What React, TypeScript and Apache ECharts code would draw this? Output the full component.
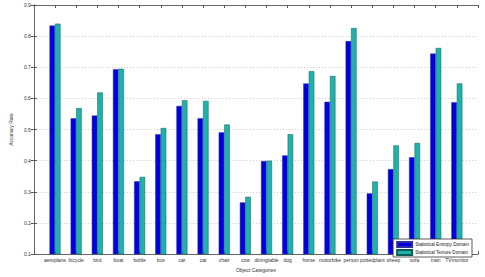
import React, { useEffect, useRef } from "react";
import * as echarts from "echarts";

const categories = [
  "aeroplane", "bicycle", "bird", "boat", "bottle", "bus", "car", "cat", "chair", "cow",
  "diningtable", "dog", "horse", "motorbike", "person", "pottedplant", "sheep", "sofa", "train", "TVmonitor",
];
const entropyValues = [
  0.834, 0.536, 0.545, 0.694, 0.334, 0.485, 0.576, 0.536, 0.491, 0.266,
  0.399, 0.417, 0.648, 0.589, 0.784, 0.295, 0.373, 0.411, 0.744, 0.588,
];
const textureValues = [
  0.840, 0.569, 0.619, 0.695, 0.348, 0.505, 0.594, 0.592, 0.516, 0.284,
  0.400, 0.485, 0.687, 0.672, 0.826, 0.333, 0.449, 0.457, 0.762, 0.648,
];
const seriesNames = ["Statistical Entropy Domain", "Statistical Texture Domain"];
const xLabel = "Object Categories";
const yLabel = "Accuracy Rate";

export default function App() {
  const ref = useRef<HTMLDivElement>(null);
  useEffect(() => {
    if (!ref.current) return;
    document.body.style.margin = "0";
    const chart = echarts.init(ref.current, undefined, { renderer: "svg" });
    const font = "Liberation Sans";
    const axisLine = { show: true, lineStyle: { color: "#666", width: 1 } };
    chart.setOption({
      animation: false,
      backgroundColor: "#fff",
      textStyle: { fontFamily: font },
      grid: { left: 17, right: 7, top: 5, bottom: 15, containLabel: false },
      legend: {
        right: 13,
        bottom: 20,
        orient: "vertical",
        itemWidth: 15,
        itemHeight: 5,
        itemGap: 1,
        padding: [2, 3, 1, 3],
        borderColor: "#333",
        borderWidth: 0.8,
        backgroundColor: "#fff",
        icon: "rect",
        textStyle: { fontSize: 4.6, color: "#222", fontFamily: font, padding: [0, 0, 0, -2] },
        data: seriesNames,
      },
      xAxis: [
        {
          type: "value",
          min: 0,
          max: 21,
          interval: 1,
          position: "bottom",
          axisLine,
          axisTick: { show: true, inside: true, length: 3, lineStyle: { color: "#555" } },
          axisLabel: {
            fontSize: 5,
            color: "#333",
            margin: 3,
            formatter: (v: number) => categories[v - 1] ?? "",
          },
          splitLine: { show: false },
          name: xLabel,
          nameLocation: "middle",
          nameGap: 9,
          nameTextStyle: { fontSize: 5, color: "#333" },
        },
        {
          type: "value",
          min: 0,
          max: 21,
          interval: 1,
          position: "top",
          axisLine,
          axisTick: { show: true, inside: true, length: 3, lineStyle: { color: "#555" } },
          axisLabel: { show: false },
          splitLine: { show: false },
        },
      ],
      yAxis: [
        {
          type: "value",
          min: 0.1,
          max: 0.9,
          interval: 0.1,
          position: "left",
          axisLine,
          axisTick: { show: true, inside: true, length: 3, lineStyle: { color: "#555" } },
          axisLabel: {
            fontSize: 5,
            color: "#333",
            margin: 3,
            formatter: (v: number) => v.toFixed(1),
          },
          splitLine: { show: true, lineStyle: { color: "#bbb", type: [1, 2], width: 0.8 } },
          name: yLabel,
          nameLocation: "middle",
          nameGap: 11,
          nameRotate: 90,
          nameTextStyle: { fontSize: 5, color: "#333" },
        },
        {
          type: "value",
          min: 0.1,
          max: 0.9,
          interval: 0.1,
          position: "right",
          axisLine,
          axisTick: { show: true, inside: true, length: 3, lineStyle: { color: "#555" } },
          axisLabel: { show: false },
          splitLine: { show: false },
        },
      ],
      series: [
        {
          name: seriesNames[0],
          type: "bar",
          xAxisIndex: 0,
          yAxisIndex: 0,
          barWidth: 5.5,
          barGap: "0%",
          itemStyle: { color: "#0000e0", borderColor: "#3030a0", borderWidth: 0.5 },
          data: entropyValues.map((v, i) => [i + 1, v]),
        },
        {
          name: seriesNames[1],
          type: "bar",
          xAxisIndex: 0,
          yAxisIndex: 0,
          barWidth: 5.5,
          barGap: "0%",
          itemStyle: { color: "#20b2aa", borderColor: "#0a5e5a", borderWidth: 0.5 },
          data: textureValues.map((v, i) => [i + 1, v]),
        },
      ],
    });
    return () => chart.dispose();
  }, []);
  return (
    <div
      ref={ref}
      style={{ position: "absolute", left: 0, top: 0, width: 485, height: 277 }}
    />
  );
}
